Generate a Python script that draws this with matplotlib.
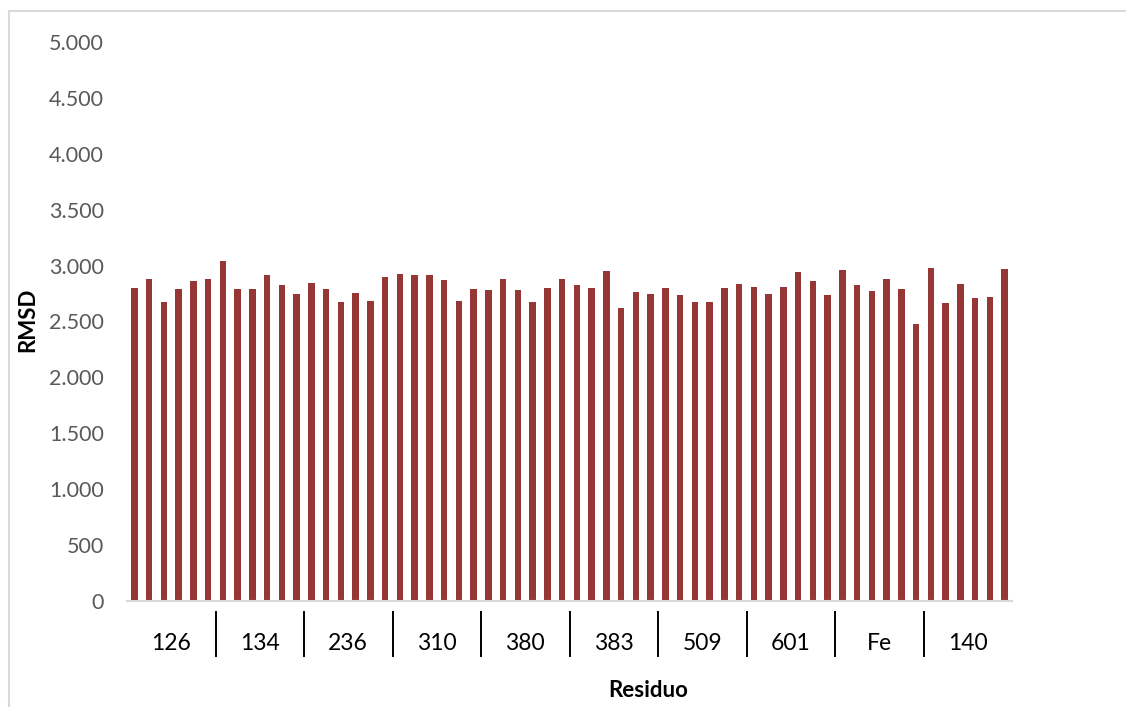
import matplotlib
matplotlib.use("Agg")
import matplotlib.pyplot as plt
import matplotlib.transforms as mtransforms
from matplotlib.patches import Rectangle
from matplotlib.ticker import FuncFormatter
import numpy as np

plt.rcParams['font.family'] = ['Lato', 'DejaVu Sans']

# Residue groups (6 frames each) and RMSD values
groups = ["126", "134", "236", "310", "380", "383", "509", "601", "Fe", "140"]
rmsd = [
    2800, 2880, 2674, 2788, 2859, 2880,
    3038, 2788, 2788, 2916, 2826, 2746,
    2841, 2788, 2674, 2752, 2680, 2901,
    2922, 2916, 2916, 2868, 2683, 2790,
    2779, 2880, 2779, 2677, 2797, 2880,
    2826, 2800, 2955, 2624, 2764, 2749,
    2800, 2740, 2674, 2674, 2800, 2835,
    2806, 2746, 2809, 2940, 2862, 2737,
    2958, 2830, 2773, 2880, 2788, 2475,
    2976, 2662, 2838, 2710, 2716, 2967,
]
y_ticks = [0, 500, 1000, 1500, 2000, 2500, 3000, 3500, 4000, 4500, 5000]

per_group = len(rmsd) // len(groups)
x = np.arange(len(rmsd))

fig = plt.figure(figsize=(11.26, 7.07), dpi=100)
ax = fig.add_axes([0.1128, 0.1500, 0.7860, 0.7906])

ax.bar(x, rmsd, width=0.45, color='#963735', edgecolor='none')

ax.set_xlim(-0.5, len(rmsd) - 0.5)
ax.set_ylim(0, 5000)
ax.set_yticks(y_ticks)
ax.yaxis.set_major_formatter(FuncFormatter(lambda v, p: f"{int(v):,}".replace(",", ".")))
ax.tick_params(axis='y', length=0, labelsize=15.5, labelcolor='#595959', pad=16.5)
ax.set_xticks([])

for s in ['top', 'right', 'left']:
    ax.spines[s].set_visible(False)
ax.spines['bottom'].set_color('#d9d9d9')
ax.spines['bottom'].set_linewidth(1.5)

# Multi-level category labels with separators below the axis
trans = mtransforms.blended_transform_factory(ax.transData, fig.transFigure)
for i, g in enumerate(groups):
    center = i * per_group + (per_group - 1) / 2
    ax.text(center, 0.090, g, transform=trans, ha='center', va='center',
            fontsize=16.5, color='#000000')
    if i > 0:
        sep = i * per_group - 0.5
        ax.plot([sep, sep], [0.0721, 0.1344], transform=trans, color='#000000',
                lw=1.4, clip_on=False)

fig.text(0.576, 0.024, "Residuo", ha='center', va='center', fontsize=16,
         fontweight='bold')
fig.text(0.025, 0.547, "RMSD", ha='center', va='center', fontsize=16,
         fontweight='bold', rotation=90)

# Chart-area frame
fig.patches.append(Rectangle((0.008, -0.05), 1.05, 0.034 + 0.95 + 0.05,
                             transform=fig.transFigure, fill=False,
                             edgecolor='#d9d9d9', lw=1.5))

fig.savefig("out.png", dpi=100, facecolor='white')
